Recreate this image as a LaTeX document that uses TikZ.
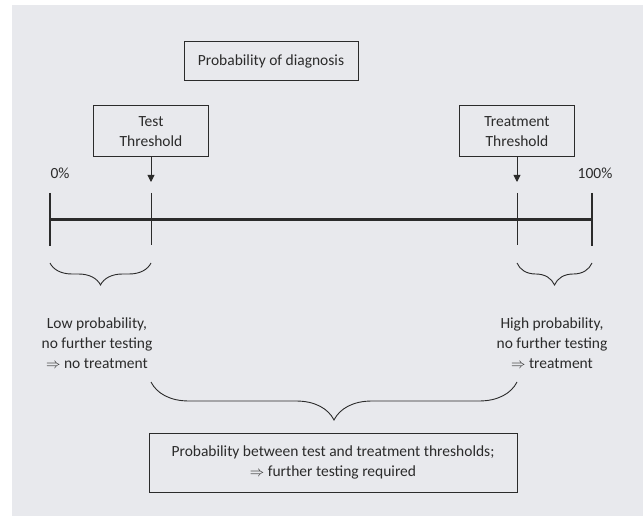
\documentclass[tikz,border=0pt]{standalone}
\usepackage{fontspec}
\setmainfont{Carlito}
\usetikzlibrary{arrows.meta,decorations.pathreplacing}
\definecolor{bgfill}{HTML}{E8E9ED}
\definecolor{ink}{HTML}{2B2B2B}
\tikzset{
  box/.style={draw=ink,line width=1pt,inner sep=0pt,align=center,text=ink,
    font=\fontsize{15.5}{20}\selectfont},
  lbl/.style={align=center,text=ink,inner sep=0pt,font=\fontsize{15.5}{20}\selectfont},
  thinline/.style={draw=ink,line width=0.9pt},
  thickline/.style={draw=ink,line width=2.4pt},
  bracedown/.style={draw=ink,line width=0.9pt,decorate,
    decoration={brace,amplitude=#1}},
}
\begin{document}
\begin{tikzpicture}[x=1pt,y=-1pt]
  \useasboundingbox (0,0) rectangle (643,516);
  \fill[bgfill] (12,5) rectangle (643,516);

  % boxes
  \node[box,minimum width=174pt,minimum height=39pt] (title) at (271,61.5) {Probability of diagnosis};
  \node[box,minimum width=115pt,minimum height=51pt] (test) at (151,131.5) {Test\\Threshold};
  \node[box,minimum width=115pt,minimum height=51pt] (treat) at (517,131.5) {Treatment\\Threshold};
  \node[box,minimum width=368pt,minimum height=59pt] (between) at (333,462.5)
    {Probability between test and treatment thresholds;\\$\Rightarrow$ further testing required};

  % end labels
  \node[lbl] (zero) at (60,173) {0\%};
  \node[lbl] (hundred) at (595,173) {100\%};
  \node[lbl] (low) at (97,343) {Low probability,\\no further testing\\$\Rightarrow$ no treatment};
  \node[lbl] (high) at (552,343) {High probability,\\no further testing\\$\Rightarrow$ treatment};

  % axis and ticks
  \coordinate (a0) at (50,219);
  \coordinate (a1) at (593,219);
  \coordinate (t0top) at (50,193);   \coordinate (t0bot) at (50,246);
  \coordinate (t1top) at (151,193);  \coordinate (t1bot) at (151,245);
  \coordinate (t2top) at (517,193);  \coordinate (t2bot) at (517,245);
  \coordinate (t3top) at (592,193);  \coordinate (t3bot) at (592,246);
  \draw[thickline,line width=3pt] (a0) -- (a1);
  \draw[thickline] (t0top) -- (t0bot);
  \draw[thinline] (t1top) -- (t1bot);
  \draw[thinline] (t2top) -- (t2bot);
  \draw[thickline] (t3top) -- (t3bot);

  % threshold arrows
  \coordinate (testtip) at (151,182);
  \coordinate (treattip) at (517,182);
  \draw[thinline,-{Triangle[length=7pt,width=7pt]}] (test.south) -- (testtip);
  \draw[thinline,-{Triangle[length=7pt,width=7pt]}] (treat.south) -- (treattip);

  % braces
  \coordinate (b0l) at (50,263);  \coordinate (b0r) at (151,263);
  \coordinate (b1l) at (517,263); \coordinate (b1r) at (592,263);
  \coordinate (b2l) at (151,382); \coordinate (b2r) at (517,382);
  \draw[bracedown=22pt] (b0r) -- (b0l);
  \draw[bracedown=22pt] (b1r) -- (b1l);
  \draw[bracedown=38pt] (b2r) -- (b2l);
\end{tikzpicture}
\end{document}
